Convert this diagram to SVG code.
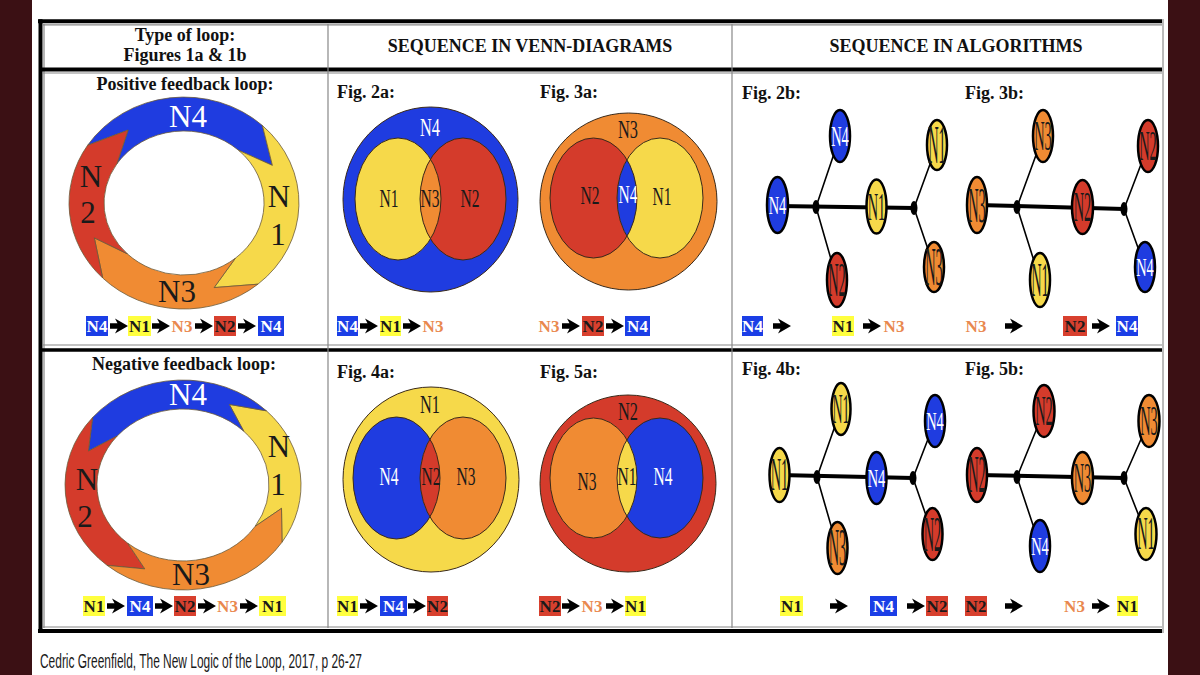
<svg xmlns="http://www.w3.org/2000/svg" width="1200" height="675" viewBox="0 0 1200 675">
<style>
.hdr{font-family:"Liberation Serif",serif;font-weight:bold;font-size:18px;fill:#111}
.mid{text-anchor:middle}
.lp{font-family:"Liberation Serif",serif;font-size:31px;text-anchor:middle}
.vn{font-family:"Liberation Serif",serif;font-size:25px;text-anchor:middle}
.tn{font-family:"Liberation Serif",serif;font-size:20px;text-anchor:middle}
.sq{font-family:"Liberation Serif",serif;font-weight:bold;font-size:17px;text-anchor:middle}
.b{fill:#1f3ce0}.y{fill:#f6d94a}.r{fill:#d43b2b}.o{fill:#f08b33}
.seg{stroke:#6b5a3a;stroke-width:0.8}
.ve{fill:none;stroke:#3a2a1a;stroke-width:1}
.vo{stroke:#3a2a1a;stroke-width:1}
.nd{stroke:#000;stroke-width:2.5}
.wt{fill:#fff}.dk{fill:#1a1a1a}
.yb{fill:#ffff3e}.rb{fill:#d8402e}.bb{fill:#1b3ee6}.ot{fill:#e9884e}
.thick{stroke:#000;stroke-width:4;fill:none}
.thin{stroke:#000;stroke-width:1.6;fill:none}
.gl{stroke:#888;stroke-width:1.2;fill:none}
.bl{stroke:#000;fill:none}
</style>
<defs>
<path id="ar" d="M0,-2.8 H7.5 L5,-7.5 L18,0 L5,7.5 L7.5,2.8 H0 Z" fill="#000"/>
<clipPath id="c2a"><ellipse cx="398" cy="199" rx="43" ry="61"/></clipPath>
<clipPath id="c3a"><ellipse cx="593.5" cy="198" rx="43.5" ry="60"/></clipPath>
<clipPath id="c4a"><ellipse cx="396.5" cy="478" rx="43.5" ry="61"/></clipPath>
<clipPath id="c5a"><ellipse cx="593.5" cy="478" rx="43.5" ry="60"/></clipPath>
</defs>
<rect width="1200" height="675" fill="#fff"/>
<rect x="0" y="0" width="32" height="675" fill="#3b1014"/>
<rect x="1168" y="0" width="32" height="675" fill="#3b1014"/>

<g id="table">
<line class="bl" x1="38" y1="21.3" x2="1162" y2="21.3" stroke-width="4"/>
<line class="bl" x1="40.5" y1="19.3" x2="40.5" y2="633" stroke-width="4"/>
<line class="bl" x1="38" y1="631" x2="1162" y2="631" stroke-width="4"/>
<line class="gl" x1="43" y1="24.8" x2="1162" y2="24.8"/>
<line class="gl" x1="44" y1="24" x2="44" y2="628"/>
<line class="gl" x1="43" y1="627" x2="1162" y2="627"/>
<line x1="1163" y1="19" x2="1163" y2="633" stroke="#777" stroke-width="1"/>
<line class="bl" x1="40" y1="69.5" x2="1162" y2="69.5" stroke-width="4"/>
<line class="gl" x1="43" y1="73" x2="1162" y2="73"/>
<line class="gl" x1="43" y1="345" x2="1162" y2="345"/>
<line class="bl" x1="40" y1="350" x2="1162" y2="350" stroke-width="3.5"/>
<line class="gl" x1="328" y1="24" x2="328" y2="628"/>
<line class="gl" x1="732" y1="24" x2="732" y2="628"/>
</g>

<g id="headers">
<text class="hdr mid" x="185" y="41">Type of loop:</text>
<text class="hdr mid" x="185" y="61">Figures 1a &amp; 1b</text>
<text class="hdr mid" x="530" y="52">SEQUENCE IN VENN-DIAGRAMS</text>
<text class="hdr mid" x="956" y="52">SEQUENCE IN ALGORITHMS</text>
<text class="hdr mid" x="185" y="90">Positive feedback loop:</text>
<text class="hdr mid" x="184" y="370">Negative feedback loop:</text>
<text class="hdr" x="337" y="98">Fig. 2a:</text>
<text class="hdr" x="540" y="98">Fig. 3a:</text>
<text class="hdr" x="742" y="99">Fig. 2b:</text>
<text class="hdr" x="965" y="99">Fig. 3b:</text>
<text class="hdr" x="337" y="378">Fig. 4a:</text>
<text class="hdr" x="540" y="378">Fig. 5a:</text>
<text class="hdr" x="742" y="375">Fig. 4b:</text>
<text class="hdr" x="965" y="375">Fig. 5b:</text>
</g>

<g id="loop-positive">
<path class="seg b" d="M87.6,145.3 A115,106 0 0 1 262.4,125.5 L272.4,165.4 L238.6,150.3 A80,72 0 0 0 116.9,163.8 L128.1,130.1 Z"/>
<path class="seg y" d="M262.4,125.5 A115,106 0 0 1 257.9,284.2 L214.1,287.6 L235.4,258.2 A80,72 0 0 0 238.6,150.3 L272.4,165.4 Z"/>
<path class="seg o" d="M257.9,284.2 A115,106 0 0 1 102.7,278.0 L94.3,237.8 L127.4,253.9 A80,72 0 0 0 235.4,258.2 L214.1,287.6 Z"/>
<path class="seg r" d="M102.7,278.0 A115,106 0 0 1 87.6,145.3 L128.1,130.1 L116.9,163.8 A80,72 0 0 0 127.4,253.9 L94.3,237.8 Z"/>
<text class="lp wt" x="188" y="127">N4</text>
<text class="lp dk" x="177" y="302">N3</text>
<text class="lp dk" x="91" y="187">N</text>
<text class="lp dk" x="88" y="223">2</text>
<text class="lp dk" x="279" y="207">N</text>
<text class="lp dk" x="278" y="245">1</text>
</g>

<g id="loop-negative">
<path class="seg y" d="M282.0,542.2 A118,105 0 0 0 266.4,410.8 L229.3,404.4 L243.8,431.3 A86,76 0 0 1 255.1,526.4 L281.5,508.4 Z"/>
<path class="seg b" d="M266.4,410.8 A118,105 0 0 0 92.6,417.5 L88.4,451.1 L117.1,436.1 A86,76 0 0 1 243.8,431.3 L229.3,404.4 Z"/>
<path class="seg r" d="M92.6,417.5 A118,105 0 0 0 107.2,565.4 L144.8,568.9 L127.7,543.2 A86,76 0 0 1 117.1,436.1 L88.4,451.1 Z"/>
<path class="seg o" d="M107.2,565.4 A118,105 0 0 0 282.0,542.2 L281.5,508.4 L255.1,526.4 A86,76 0 0 1 127.7,543.2 L144.8,568.9 Z"/>
<text class="lp wt" x="188" y="405">N4</text>
<text class="lp dk" x="191" y="585">N3</text>
<text class="lp dk" x="87" y="490">N</text>
<text class="lp dk" x="85" y="527">2</text>
<text class="lp dk" x="279" y="457">N</text>
<text class="lp dk" x="278" y="495">1</text>
</g>

<g id="venn-2a">
<ellipse class="b vo" cx="430.5" cy="199.5" rx="87.5" ry="92.5"/>
<ellipse class="y" cx="398" cy="199" rx="43" ry="61"/>
<ellipse class="r" cx="463" cy="199" rx="43" ry="61"/>
<ellipse class="o" cx="463" cy="199" rx="43" ry="61" clip-path="url(#c2a)"/>
<ellipse class="ve" cx="398" cy="199" rx="43" ry="61"/>
<ellipse class="ve" cx="463" cy="199" rx="43" ry="61"/>
<text class="vn wt" x="430" y="136" textLength="20" lengthAdjust="spacingAndGlyphs">N4</text>
<text class="vn dk" x="389" y="207" textLength="19" lengthAdjust="spacingAndGlyphs">N1</text>
<text class="vn dk" x="430" y="207" textLength="19" lengthAdjust="spacingAndGlyphs">N3</text>
<text class="vn dk" x="470" y="207" textLength="19" lengthAdjust="spacingAndGlyphs">N2</text>
</g>

<g id="venn-3a">
<ellipse class="o vo" cx="628.5" cy="201.5" rx="88.5" ry="88.5"/>
<ellipse class="r" cx="593.5" cy="198" rx="43.5" ry="60"/>
<ellipse class="y" cx="660" cy="198" rx="43" ry="60"/>
<ellipse class="b" cx="660" cy="198" rx="43" ry="60" clip-path="url(#c3a)"/>
<ellipse class="ve" cx="593.5" cy="198" rx="43.5" ry="60"/>
<ellipse class="ve" cx="660" cy="198" rx="43" ry="60"/>
<text class="vn dk" x="628" y="138" textLength="20" lengthAdjust="spacingAndGlyphs">N3</text>
<text class="vn dk" x="590" y="204" textLength="19" lengthAdjust="spacingAndGlyphs">N2</text>
<text class="vn wt" x="628" y="203" textLength="19" lengthAdjust="spacingAndGlyphs">N4</text>
<text class="vn dk" x="662" y="205" textLength="19" lengthAdjust="spacingAndGlyphs">N1</text>
</g>

<g id="venn-4a">
<ellipse class="y vo" cx="431" cy="479.5" rx="88" ry="92.5"/>
<ellipse class="b" cx="396.5" cy="478" rx="43.5" ry="61"/>
<ellipse class="o" cx="463" cy="478" rx="43" ry="61"/>
<ellipse class="r" cx="463" cy="478" rx="43" ry="61" clip-path="url(#c4a)"/>
<ellipse class="ve" cx="396.5" cy="478" rx="43.5" ry="61"/>
<ellipse class="ve" cx="463" cy="478" rx="43" ry="61"/>
<text class="vn dk" x="430" y="413" textLength="20" lengthAdjust="spacingAndGlyphs">N1</text>
<text class="vn wt" x="389" y="485" textLength="19" lengthAdjust="spacingAndGlyphs">N4</text>
<text class="vn dk" x="431" y="485" textLength="19" lengthAdjust="spacingAndGlyphs">N2</text>
<text class="vn dk" x="466" y="485" textLength="19" lengthAdjust="spacingAndGlyphs">N3</text>
</g>

<g id="venn-5a">
<ellipse class="r vo" cx="628" cy="483.5" rx="88" ry="88.5"/>
<ellipse class="o" cx="593.5" cy="478" rx="43.5" ry="60"/>
<ellipse class="b" cx="660" cy="478" rx="43" ry="60"/>
<ellipse class="y" cx="660" cy="478" rx="43" ry="60" clip-path="url(#c5a)"/>
<ellipse class="ve" cx="593.5" cy="478" rx="43.5" ry="60"/>
<ellipse class="ve" cx="660" cy="478" rx="43" ry="60"/>
<text class="vn dk" x="628" y="420" textLength="20" lengthAdjust="spacingAndGlyphs">N2</text>
<text class="vn dk" x="587" y="490" textLength="19" lengthAdjust="spacingAndGlyphs">N3</text>
<text class="vn dk" x="627" y="485" textLength="19" lengthAdjust="spacingAndGlyphs">N1</text>
<text class="vn wt" x="663" y="485" textLength="19" lengthAdjust="spacingAndGlyphs">N4</text>
</g>

<g id="connectors">
<path class="thick" d="M778,206 L914,208"/>
<path class="thin" d="M816,207 L840,136 M816,207 L837,280 M914,208 L937,145 M914,208 L934,267"/>
<path class="thick" d="M977,205 L1124,209"/>
<path class="thin" d="M1017,207 L1043,136 M1017,207 L1040,280 M1124,209 L1148,146 M1124,209 L1145,267"/>
<path class="thick" d="M779,475 L913,478"/>
<path class="thin" d="M817,477 L841,409 M817,477 L837.5,548 M913,478 L935,421 M913,478 L932.5,534"/>
<path class="thick" d="M977,475 L1124,478"/>
<path class="thin" d="M1017,477 L1044,411 M1017,477 L1040,546 M1124,478 L1149,421 M1124,478 L1146,534"/>
<ellipse cx="816" cy="207" rx="3.5" ry="7"/>
<ellipse cx="914" cy="208" rx="3.5" ry="7"/>
<ellipse cx="1017" cy="207" rx="3.5" ry="7"/>
<ellipse cx="1124" cy="209" rx="3.5" ry="7"/>
<ellipse cx="817" cy="477" rx="3.5" ry="7"/>
<ellipse cx="913" cy="478" rx="3.5" ry="7"/>
<ellipse cx="1017" cy="477" rx="3.5" ry="7"/>
<ellipse cx="1124" cy="478" rx="3.5" ry="7"/>
</g>

<g id="tree-2b">
<g id="n2b-1"><ellipse class="b nd" cx="777.5" cy="205" rx="10.5" ry="28"/><text class="tn wt" y="6.6" transform="translate(777.5 205) scale(0.72 1.29)">N4</text></g>
<g id="n2b-2"><ellipse class="b nd" cx="840" cy="136" rx="10" ry="26"/><text class="tn wt" y="6.6" transform="translate(840 136) scale(0.72 1.5)">N4</text></g>
<g id="n2b-3"><ellipse class="r nd" cx="837" cy="280" rx="10" ry="27"/><text class="tn dk" y="6.6" transform="translate(837 280) scale(0.72 2.4)">N2</text></g>
<g id="n2b-4"><ellipse class="y nd" cx="876.5" cy="206.5" rx="10" ry="27"/><text class="tn dk" y="6.6" transform="translate(876.5 206.5) scale(0.72 2.05)">N1</text></g>
<g id="n2b-5"><ellipse class="y nd" cx="937" cy="145" rx="10" ry="25"/><text class="tn dk" y="6.6" transform="translate(937 145) scale(0.72 2.7)">N1</text></g>
<g id="n2b-6"><ellipse class="o nd" cx="934" cy="267" rx="10" ry="25"/><text class="tn dk" y="6.6" transform="translate(934 267) scale(0.72 2.7)">N3</text></g>
</g>

<g id="tree-3b">
<g id="n3b-1"><ellipse class="o nd" cx="977" cy="205" rx="10" ry="28"/><text class="tn dk" y="6.6" transform="translate(977 205) scale(0.72 2.5)">N3</text></g>
<g id="n3b-2"><ellipse class="o nd" cx="1043" cy="136" rx="10" ry="26"/><text class="tn dk" y="6.6" transform="translate(1043 136) scale(0.72 2.1)">N3</text></g>
<g id="n3b-3"><ellipse class="y nd" cx="1040" cy="280" rx="10" ry="27"/><text class="tn dk" y="6.6" transform="translate(1040 280) scale(0.72 2.4)">N1</text></g>
<g id="n3b-4"><ellipse class="r nd" cx="1082.5" cy="207" rx="10.5" ry="27"/><text class="tn dk" y="6.6" transform="translate(1082.5 207) scale(0.72 2.1)">N2</text></g>
<g id="n3b-5"><ellipse class="r nd" cx="1148" cy="146" rx="10" ry="26"/><text class="tn dk" y="6.6" transform="translate(1148 146) scale(0.72 2.1)">N2</text></g>
<g id="n3b-6"><ellipse class="b nd" cx="1145" cy="267" rx="10" ry="25"/><text class="tn wt" y="6.6" transform="translate(1145 267) scale(0.72 1.29)">N4</text></g>
</g>

<g id="tree-4b">
<g id="n4b-1"><ellipse class="y nd" cx="779.5" cy="475" rx="10" ry="27"/><text class="tn dk" y="6.6" transform="translate(779.5 475) scale(0.72 2.27)">N1</text></g>
<g id="n4b-2"><ellipse class="y nd" cx="841" cy="409" rx="9.5" ry="26"/><text class="tn dk" y="6.6" transform="translate(841 409) scale(0.7 2.1)">N1</text></g>
<g id="n4b-3"><ellipse class="o nd" cx="837.5" cy="548" rx="10" ry="26"/><text class="tn dk" y="6.6" transform="translate(837.5 548) scale(0.72 2.6)">N3</text></g>
<g id="n4b-4"><ellipse class="b nd" cx="876.5" cy="478" rx="10" ry="26"/><text class="tn wt" y="6.6" transform="translate(876.5 478) scale(0.72 1.29)">N4</text></g>
<g id="n4b-5"><ellipse class="b nd" cx="935" cy="421" rx="10" ry="26"/><text class="tn wt" y="6.6" transform="translate(935 421) scale(0.72 1.29)">N4</text></g>
<g id="n4b-6"><ellipse class="r nd" cx="932.5" cy="534" rx="10" ry="26"/><text class="tn dk" y="6.6" transform="translate(932.5 534) scale(0.72 2.5)">N2</text></g>
</g>

<g id="tree-5b">
<g id="n5b-1"><ellipse class="r nd" cx="977" cy="475" rx="10" ry="27"/><text class="tn dk" y="6.6" transform="translate(977 475) scale(0.72 2.6)">N2</text></g>
<g id="n5b-2"><ellipse class="r nd" cx="1044" cy="411" rx="10.5" ry="26"/><text class="tn dk" y="6.6" transform="translate(1044 411) scale(0.72 2.1)">N2</text></g>
<g id="n5b-3"><ellipse class="b nd" cx="1040" cy="546" rx="10" ry="26"/><text class="tn wt" y="6.6" transform="translate(1040 546) scale(0.72 1.29)">N4</text></g>
<g id="n5b-4"><ellipse class="o nd" cx="1082.5" cy="478" rx="10.5" ry="26"/><text class="tn dk" y="6.6" transform="translate(1082.5 478) scale(0.72 2.1)">N3</text></g>
<g id="n5b-5"><ellipse class="o nd" cx="1149" cy="421" rx="10.5" ry="26"/><text class="tn dk" y="6.6" transform="translate(1149 421) scale(0.72 2.1)">N3</text></g>
<g id="n5b-6"><ellipse class="y nd" cx="1146" cy="534" rx="10.5" ry="26"/><text class="tn dk" y="6.6" transform="translate(1146 534) scale(0.72 2.27)">N1</text></g>
</g>

<g id="seq-row1">
<rect class="bb" x="86" y="316" width="22" height="20"/><text class="sq wt" x="97" y="332">N4</text>
<use href="#ar" x="110" y="326"/>
<rect class="yb" x="128" y="316" width="23" height="20"/><text class="sq dk" x="139.5" y="332">N1</text>
<use href="#ar" x="152" y="326"/>
<text class="sq ot" x="182" y="332">N3</text>
<use href="#ar" x="195" y="326"/>
<rect class="rb" x="214" y="316" width="22" height="20"/><text class="sq dk" x="225" y="332">N2</text>
<use href="#ar" x="238" y="326"/>
<rect class="bb" x="258" y="316" width="26" height="20"/><text class="sq wt" x="271" y="332">N4</text>

<rect class="bb" x="337" y="316" width="21" height="20"/><text class="sq wt" x="347.5" y="332">N4</text>
<use href="#ar" x="360" y="326"/>
<rect class="yb" x="380" y="316" width="21" height="20"/><text class="sq dk" x="390.5" y="332">N1</text>
<use href="#ar" x="403" y="326"/>
<text class="sq ot" x="433" y="332">N3</text>

<text class="sq ot" x="549" y="332">N3</text>
<use href="#ar" x="562" y="326"/>
<rect class="rb" x="582" y="316" width="22" height="20"/><text class="sq dk" x="593" y="332">N2</text>
<use href="#ar" x="606" y="326"/>
<rect class="bb" x="625" y="316" width="25" height="20"/><text class="sq wt" x="637.5" y="332">N4</text>

<rect class="bb" x="742" y="316" width="21" height="20"/><text class="sq wt" x="752.5" y="332">N4</text>
<use href="#ar" x="773" y="326"/>
<rect class="yb" x="832" y="316" width="22" height="20"/><text class="sq dk" x="843" y="332">N1</text>
<use href="#ar" x="863" y="326"/>
<text class="sq ot" x="894" y="332">N3</text>

<text class="sq ot" x="976" y="332">N3</text>
<use href="#ar" x="1005" y="326"/>
<rect class="rb" x="1063" y="316" width="24" height="20"/><text class="sq dk" x="1075" y="332">N2</text>
<use href="#ar" x="1092" y="326"/>
<rect class="bb" x="1116" y="316" width="22" height="20"/><text class="sq wt" x="1127" y="332">N4</text>
</g>

<g id="seq-row2">
<rect class="yb" x="83" y="596" width="22" height="20"/><text class="sq dk" x="94" y="612">N1</text>
<use href="#ar" x="107" y="606"/>
<rect class="bb" x="127" y="596" width="26" height="20"/><text class="sq wt" x="140" y="612">N4</text>
<use href="#ar" x="155" y="606"/>
<rect class="rb" x="174" y="596" width="22" height="20"/><text class="sq dk" x="185" y="612">N2</text>
<use href="#ar" x="198" y="606"/>
<text class="sq ot" x="227.5" y="612">N3</text>
<use href="#ar" x="240" y="606"/>
<rect class="yb" x="259" y="596" width="27" height="20"/><text class="sq dk" x="272.5" y="612">N1</text>

<rect class="yb" x="337" y="596" width="21" height="20"/><text class="sq dk" x="347.5" y="612">N1</text>
<use href="#ar" x="360" y="606"/>
<rect class="bb" x="380" y="596" width="27" height="20"/><text class="sq wt" x="393.5" y="612">N4</text>
<use href="#ar" x="408" y="606"/>
<rect class="rb" x="427" y="596" width="21" height="20"/><text class="sq dk" x="437.5" y="612">N2</text>

<rect class="rb" x="539" y="596" width="22" height="20"/><text class="sq dk" x="550" y="612">N2</text>
<use href="#ar" x="562" y="606"/>
<text class="sq ot" x="592" y="612">N3</text>
<use href="#ar" x="606" y="606"/>
<rect class="yb" x="625" y="596" width="21" height="20"/><text class="sq dk" x="635.5" y="612">N1</text>

<rect class="yb" x="780" y="596" width="23" height="20"/><text class="sq dk" x="791.5" y="612">N1</text>
<use href="#ar" x="830" y="606"/>
<rect class="bb" x="870" y="596" width="27" height="20"/><text class="sq wt" x="883.5" y="612">N4</text>
<use href="#ar" x="907" y="606"/>
<rect class="rb" x="926" y="596" width="22" height="20"/><text class="sq dk" x="937" y="612">N2</text>

<rect class="rb" x="965" y="596" width="22" height="20"/><text class="sq dk" x="976" y="612">N2</text>
<use href="#ar" x="1005" y="606"/>
<text class="sq ot" x="1074.5" y="612">N3</text>
<use href="#ar" x="1092" y="606"/>
<rect class="yb" x="1117" y="596" width="21" height="20"/><text class="sq dk" x="1127.5" y="612">N1</text>
</g>

<text x="40" y="668" font-family="'Liberation Sans Narrow','Liberation Sans',sans-serif" font-size="20" fill="#1a1a1a" textLength="322" lengthAdjust="spacingAndGlyphs">Cedric Greenfield, The New Logic of the Loop, 2017, p 26-27</text>
</svg>
